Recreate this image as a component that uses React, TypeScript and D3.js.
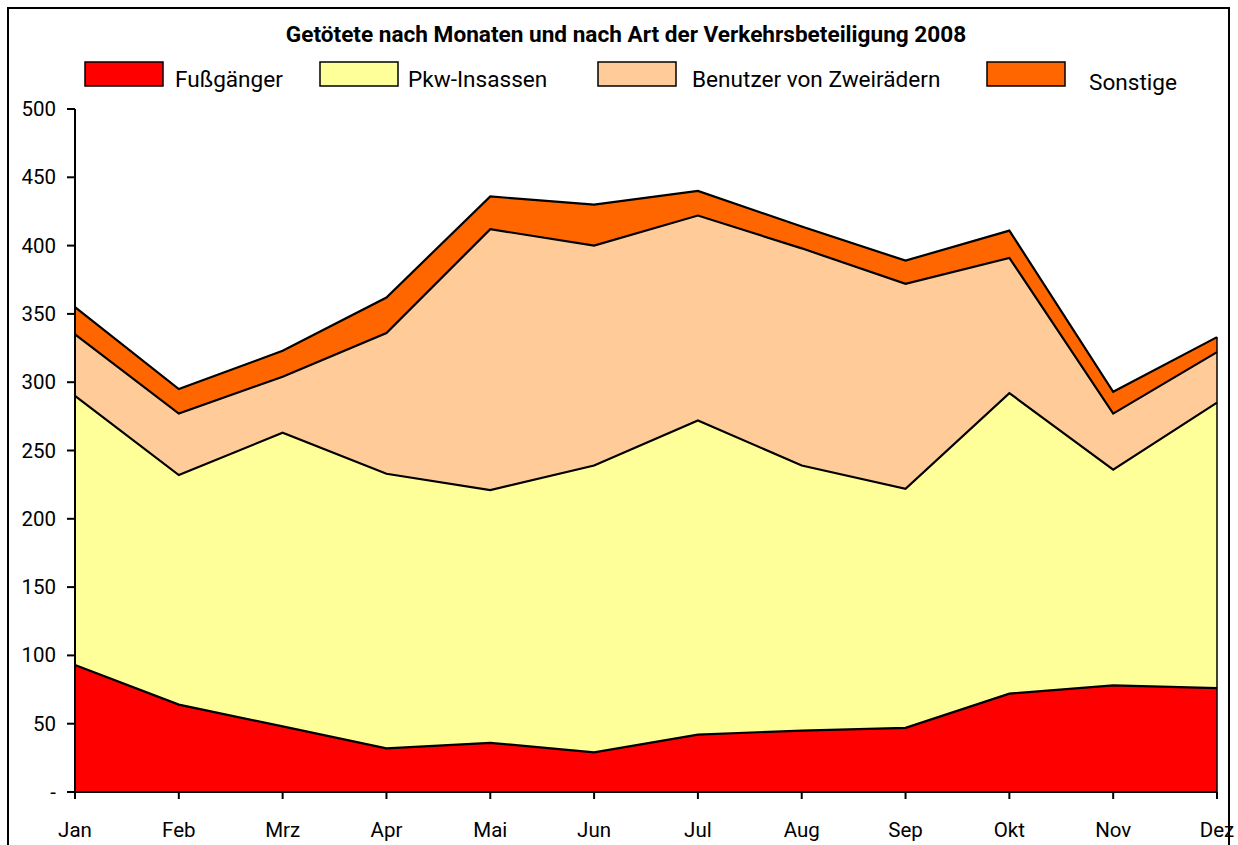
import React from "react";
import * as d3 from "d3";

const months = ["Jan", "Feb", "Mrz", "Apr", "Mai", "Jun", "Jul", "Aug", "Sep", "Okt", "Nov", "Dez"];
const seriesNames = ["Fußgänger", "Pkw-Insassen", "Benutzer von Zweirädern", "Sonstige"];
const fussgaenger = [93, 64, 48, 32, 36, 29, 42, 45, 47, 72, 78, 76];
const pkwInsassen = [197, 168, 215, 201, 185, 210, 230, 194, 175, 220, 158, 209];
const zweiraeder = [45, 45, 41, 103, 191, 161, 150, 159, 150, 99, 41, 37];
const sonstige = [20, 18, 19, 26, 24, 30, 18, 16, 17, 20, 16, 11];
const yTicks = [0, 50, 100, 150, 200, 250, 300, 350, 400, 450, 500];
const colors = ["#FF0000", "#FFFF99", "#FFCC99", "#FF6600"];

const W = 1238;
const H = 845;
const FONT = "Roboto, 'Noto Sans', sans-serif";

export default function App() {
  const x = d3.scalePoint<string>().domain(months).range([75, 1217]);
  const y = d3.scaleLinear().domain([0, 500]).range([792, 109]);

  const rows = months.map((m, i) => ({
    month: m,
    s0: fussgaenger[i],
    s1: pkwInsassen[i],
    s2: zweiraeder[i],
    s3: sonstige[i],
  }));
  const stack = d3.stack<any>().keys(["s0", "s1", "s2", "s3"]);
  const layers = stack(rows);
  const area = d3
    .area<any>()
    .x((d) => x(d.data.month) as number)
    .y0((d) => y(d[0]))
    .y1((d) => y(d[1]));
  const line = d3
    .line<any>()
    .x((d) => x(d.data.month) as number)
    .y((d) => y(d[1]));

  const legend = [
    { rx: 85, tx: 175, ty: 87 },
    { rx: 320, tx: 408, ty: 87 },
    { rx: 598, tx: 692, ty: 87 },
    { rx: 987, tx: 1089, ty: 90 },
  ];

  const lastTotal = sonstige[11] + zweiraeder[11] + pkwInsassen[11] + fussgaenger[11];

  return (
    <svg
      width={W}
      height={H}
      style={{ position: "absolute", left: 0, top: 0, background: "#fff" }}
      fontFamily={FONT}
    >
      <rect x={8} y={8} width={1221} height={H + 20} fill="#fff" stroke="#000" strokeWidth={2} />
      <text x={626} y={42} textAnchor="middle" fontSize={22.6} fontWeight="bold" fill="#000">
        Getötete nach Monaten und nach Art der Verkehrsbeteiligung 2008
      </text>
      {legend.map((l, i) => (
        <g key={i}>
          <rect x={l.rx} y={62} width={78} height={24} fill={colors[i]} stroke="#000" strokeWidth={1.5} />
          <text x={l.tx} y={l.ty} fontSize={22.6} fill="#000">
            {seriesNames[i]}
          </text>
        </g>
      ))}
      {layers.map((layer, i) => (
        <path key={"a" + i} d={area(layer) || ""} fill={colors[i]} stroke="none" />
      ))}
      {layers.map((layer, i) => (
        <path key={"l" + i} d={line(layer) || ""} fill="none" stroke="#000" strokeWidth={2.2} strokeLinejoin="miter" />
      ))}
      {/* y axis */}
      <line x1={75} x2={75} y1={109} y2={799} stroke="#000" strokeWidth={2} />
      <line x1={1217} x2={1217} y1={y(lastTotal)} y2={799} stroke="#000" strokeWidth={1.5} />
      {yTicks.map((t) => (
        <g key={t}>
          <line x1={67} x2={75} y1={y(t)} y2={y(t)} stroke="#000" strokeWidth={2} />
          <text x={56} y={y(t) + 7} textAnchor="end" fontSize={20.5} fill="#000">
            {t === 0 ? "-" : t}
          </text>
        </g>
      ))}
      {/* x axis */}
      <line x1={75} x2={1217} y1={792} y2={792} stroke="#000" strokeWidth={2} />
      {months.map((m) => (
        <g key={m}>
          <line x1={x(m)} x2={x(m)} y1={792} y2={799} stroke="#000" strokeWidth={2} />
          <text x={x(m)} y={837} textAnchor="middle" fontSize={20.5} fill="#000">
            {m}
          </text>
        </g>
      ))}
    </svg>
  );
}
